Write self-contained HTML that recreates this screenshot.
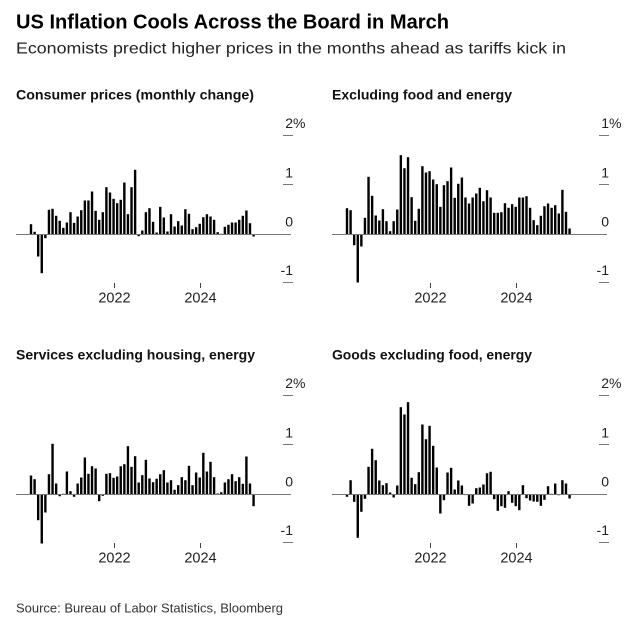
<!DOCTYPE html>
<html>
<head>
<meta charset="utf-8">
<style>
html,body{margin:0;padding:0;background:#fff;}
svg{display:block;}
text{font-family:"Liberation Sans",Arial,sans-serif;}
</style>
</head>
<body>
<svg width="632" height="629" viewBox="0 0 632 629" xmlns="http://www.w3.org/2000/svg">
<rect width="632" height="629" fill="#fff"/>

<!-- Titles -->
<text x="16" y="28.3" font-size="20" font-weight="bold" fill="#000" textLength="433" lengthAdjust="spacingAndGlyphs">US Inflation Cools Across the Board in March</text>
<text x="16" y="53.3" font-size="16" fill="#222" textLength="550" lengthAdjust="spacingAndGlyphs">Economists predict higher prices in the months ahead as tariffs kick in</text>

<text x="16" y="99.3" font-size="14" font-weight="bold" fill="#111" textLength="238" lengthAdjust="spacingAndGlyphs">Consumer prices (monthly change)</text>
<text x="332" y="99.3" font-size="14" font-weight="bold" fill="#111" textLength="180" lengthAdjust="spacingAndGlyphs">Excluding food and energy</text>
<text x="16" y="359.5" font-size="14" font-weight="bold" fill="#111" textLength="239" lengthAdjust="spacingAndGlyphs">Services excluding housing, energy</text>
<text x="332" y="359.5" font-size="14" font-weight="bold" fill="#111" textLength="200" lengthAdjust="spacingAndGlyphs">Goods excluding food, energy</text>

<text x="16" y="612.7" font-size="13" fill="#333" textLength="267" lengthAdjust="spacingAndGlyphs">Source: Bureau of Labor Statistics, Bloomberg</text>

<!-- ===== Top-left: CPI ===== -->
<g transform="translate(29.8,234.5) scale(1,-1)" fill="#000">
<rect x="0" width="2.4" height="10.3"/>
<rect x="3.59" width="2.4" height="2.7"/>
<rect x="7.18" y="-22" width="2.4" height="22"/>
<rect x="10.77" y="-38.7" width="2.4" height="38.7"/>
<rect x="14.36" y="-3.7" width="2.4" height="3.7"/>
<rect x="17.95" width="2.4" height="24.7"/>
<rect x="21.54" width="2.4" height="25.7"/>
<rect x="25.13" width="2.4" height="18.7"/>
<rect x="28.72" width="2.4" height="13.7"/>
<rect x="32.31" width="2.4" height="6.7"/>
<rect x="35.9" width="2.4" height="12"/>
<rect x="39.49" width="2.4" height="22.3"/>
<rect x="43.08" width="2.4" height="11.7"/>
<rect x="46.67" width="2.4" height="18"/>
<rect x="50.26" width="2.4" height="24.3"/>
<rect x="53.85" width="2.4" height="34"/>
<rect x="57.44" width="2.4" height="34"/>
<rect x="61.03" width="2.4" height="43"/>
<rect x="64.62" width="2.4" height="23.7"/>
<rect x="68.21" width="2.4" height="14.7"/>
<rect x="71.8" width="2.4" height="22.3"/>
<rect x="75.39" width="2.4" height="47.3"/>
<rect x="78.98" width="2.4" height="42"/>
<rect x="82.57" width="2.4" height="35.7"/>
<rect x="86.16" width="2.4" height="31.3"/>
<rect x="89.75" width="2.4" height="34.7"/>
<rect x="93.34" width="2.4" height="52"/>
<rect x="96.93" width="2.4" height="20.3"/>
<rect x="100.52" width="2.4" height="47.3"/>
<rect x="104.11" width="2.4" height="64.7"/>
<rect x="107.7" y="-1.7" width="2.4" height="1.7"/>
<rect x="111.29" width="2.4" height="4"/>
<rect x="114.88" width="2.4" height="22.3"/>
<rect x="118.47" width="2.4" height="26.3"/>
<rect x="122.06" width="2.4" height="12.7"/>
<rect x="125.65" width="2.4" height="2"/>
<rect x="129.24" width="2.4" height="27.7"/>
<rect x="132.83" width="2.4" height="17"/>
<rect x="136.42" width="2.4" height="3"/>
<rect x="140.01" width="2.4" height="20.3"/>
<rect x="143.6" width="2.4" height="8"/>
<rect x="147.19" width="2.4" height="13.3"/>
<rect x="150.78" width="2.4" height="9"/>
<rect x="154.37" width="2.4" height="25.3"/>
<rect x="157.96" width="2.4" height="20.7"/>
<rect x="161.55" width="2.4" height="5.3"/>
<rect x="165.14" width="2.4" height="7.3"/>
<rect x="168.73" width="2.4" height="10.7"/>
<rect x="172.32" width="2.4" height="17.3"/>
<rect x="175.91" width="2.4" height="20.3"/>
<rect x="179.5" width="2.4" height="18"/>
<rect x="183.09" width="2.4" height="14.7"/>
<rect x="186.68" width="2.4" height="2.3"/>
<rect x="190.27" width="2.4" height="0.7"/>
<rect x="193.86" width="2.4" height="7.7"/>
<rect x="197.45" width="2.4" height="9.7"/>
<rect x="201.04" width="2.4" height="12"/>
<rect x="204.63" width="2.4" height="12"/>
<rect x="208.22" width="2.4" height="14.7"/>
<rect x="211.81" width="2.4" height="18.7"/>
<rect x="215.4" width="2.4" height="24"/>
<rect x="218.99" width="2.4" height="11.3"/>
<rect x="222.58" y="-2" width="2.4" height="2"/>
</g>

<!-- ===== Top-right: Core ===== -->
<g transform="translate(345.8,234.5) scale(1,-1)" fill="#000">
<rect x="0" width="2.4" height="26.3"/>
<rect x="3.59" width="2.4" height="24.3"/>
<rect x="7.18" y="-10.7" width="2.4" height="10.7"/>
<rect x="10.77" y="-48" width="2.4" height="48"/>
<rect x="14.36" y="-12" width="2.4" height="12"/>
<rect x="17.95" width="2.4" height="16.7"/>
<rect x="21.54" width="2.4" height="57.7"/>
<rect x="25.13" width="2.4" height="38.7"/>
<rect x="28.72" width="2.4" height="19"/>
<rect x="32.31" width="2.4" height="14"/>
<rect x="35.9" width="2.4" height="25.3"/>
<rect x="39.49" width="2.4" height="13.3"/>
<rect x="43.08" width="2.4" height="3.3"/>
<rect x="46.67" width="2.4" height="13.3"/>
<rect x="50.26" width="2.4" height="25"/>
<rect x="53.85" width="2.4" height="79.3"/>
<rect x="57.44" width="2.4" height="66.3"/>
<rect x="61.03" width="2.4" height="77.3"/>
<rect x="64.62" width="2.4" height="37.3"/>
<rect x="68.21" width="2.4" height="13.7"/>
<rect x="71.8" width="2.4" height="25.7"/>
<rect x="75.39" width="2.4" height="68.3"/>
<rect x="78.98" width="2.4" height="62"/>
<rect x="82.57" width="2.4" height="63.3"/>
<rect x="86.16" width="2.4" height="55"/>
<rect x="89.75" width="2.4" height="50.3"/>
<rect x="93.34" width="2.4" height="27.7"/>
<rect x="96.93" width="2.4" height="49.3"/>
<rect x="100.52" width="2.4" height="53.3"/>
<rect x="104.11" width="2.4" height="67"/>
<rect x="107.7" width="2.4" height="36.7"/>
<rect x="111.29" width="2.4" height="50.7"/>
<rect x="114.88" width="2.4" height="57"/>
<rect x="118.47" width="2.4" height="37"/>
<rect x="122.06" width="2.4" height="31"/>
<rect x="125.65" width="2.4" height="37"/>
<rect x="129.24" width="2.4" height="41"/>
<rect x="132.83" width="2.4" height="46.7"/>
<rect x="136.42" width="2.4" height="33.3"/>
<rect x="140.01" width="2.4" height="44.3"/>
<rect x="143.6" width="2.4" height="37"/>
<rect x="147.19" width="2.4" height="21.7"/>
<rect x="150.78" width="2.4" height="21.7"/>
<rect x="154.37" width="2.4" height="22.3"/>
<rect x="157.96" width="2.4" height="31.3"/>
<rect x="161.55" width="2.4" height="26.7"/>
<rect x="165.14" width="2.4" height="30.3"/>
<rect x="168.73" width="2.4" height="27.7"/>
<rect x="172.32" width="2.4" height="37"/>
<rect x="175.91" width="2.4" height="37"/>
<rect x="179.5" width="2.4" height="38.3"/>
<rect x="183.09" width="2.4" height="26.7"/>
<rect x="186.68" width="2.4" height="14.3"/>
<rect x="190.27" width="2.4" height="9.3"/>
<rect x="193.86" width="2.4" height="18.7"/>
<rect x="197.45" width="2.4" height="28.3"/>
<rect x="201.04" width="2.4" height="31"/>
<rect x="204.63" width="2.4" height="26.7"/>
<rect x="208.22" width="2.4" height="29.3"/>
<rect x="211.81" width="2.4" height="21"/>
<rect x="215.4" width="2.4" height="44.7"/>
<rect x="218.99" width="2.4" height="22.7"/>
<rect x="222.58" width="2.4" height="6"/>
</g>

<!-- ===== Bottom-left: Services ex housing ===== -->
<g transform="translate(29.8,494.5) scale(1,-1)" fill="#000">
<rect x="0" width="2.4" height="19"/>
<rect x="3.59" width="2.4" height="15.3"/>
<rect x="7.18" y="-25.7" width="2.4" height="25.7"/>
<rect x="10.77" y="-49" width="2.4" height="49"/>
<rect x="14.36" y="-18" width="2.4" height="18"/>
<rect x="17.95" width="2.4" height="20.3"/>
<rect x="21.54" width="2.4" height="50.7"/>
<rect x="25.13" width="2.4" height="11"/>
<rect x="28.72" y="-1.7" width="2.4" height="1.7"/>
<rect x="32.31" width="2.4" height="0.7"/>
<rect x="35.9" width="2.4" height="23"/>
<rect x="39.49" width="2.4" height="3.3"/>
<rect x="43.08" y="-2.3" width="2.4" height="2.3"/>
<rect x="46.67" width="2.4" height="11"/>
<rect x="50.26" width="2.4" height="17"/>
<rect x="53.85" width="2.4" height="37"/>
<rect x="57.44" width="2.4" height="20.7"/>
<rect x="61.03" width="2.4" height="28.3"/>
<rect x="64.62" width="2.4" height="26"/>
<rect x="68.21" y="-6.7" width="2.4" height="6.7"/>
<rect x="71.8" y="-1.3" width="2.4" height="1.3"/>
<rect x="75.39" width="2.4" height="20.7"/>
<rect x="78.98" width="2.4" height="21.3"/>
<rect x="82.57" width="2.4" height="16.7"/>
<rect x="86.16" width="2.4" height="18"/>
<rect x="89.75" width="2.4" height="28.3"/>
<rect x="93.34" width="2.4" height="30.3"/>
<rect x="96.93" width="2.4" height="48.3"/>
<rect x="100.52" width="2.4" height="27.7"/>
<rect x="104.11" width="2.4" height="38.3"/>
<rect x="107.7" width="2.4" height="12"/>
<rect x="111.29" width="2.4" height="19.3"/>
<rect x="114.88" width="2.4" height="34.7"/>
<rect x="118.47" width="2.4" height="16"/>
<rect x="122.06" width="2.4" height="12.3"/>
<rect x="125.65" width="2.4" height="15.7"/>
<rect x="129.24" width="2.4" height="20.3"/>
<rect x="132.83" width="2.4" height="24.3"/>
<rect x="136.42" width="2.4" height="12"/>
<rect x="140.01" width="2.4" height="14.3"/>
<rect x="143.6" width="2.4" height="4.7"/>
<rect x="147.19" width="2.4" height="9.3"/>
<rect x="150.78" width="2.4" height="17.3"/>
<rect x="154.37" width="2.4" height="14.3"/>
<rect x="157.96" width="2.4" height="28.7"/>
<rect x="161.55" width="2.4" height="9.3"/>
<rect x="165.14" width="2.4" height="22"/>
<rect x="168.73" width="2.4" height="17"/>
<rect x="172.32" width="2.4" height="41.7"/>
<rect x="175.91" width="2.4" height="23"/>
<rect x="179.5" width="2.4" height="32.7"/>
<rect x="183.09" width="2.4" height="17.3"/>
<rect x="186.68" width="2.4" height="1"/>
<rect x="190.27" width="2.4" height="2.3"/>
<rect x="193.86" width="2.4" height="12"/>
<rect x="197.45" width="2.4" height="15.3"/>
<rect x="201.04" width="2.4" height="20.3"/>
<rect x="204.63" width="2.4" height="13.3"/>
<rect x="208.22" width="2.4" height="17.3"/>
<rect x="211.81" width="2.4" height="10.7"/>
<rect x="215.4" width="2.4" height="38"/>
<rect x="218.99" width="2.4" height="11"/>
<rect x="222.58" y="-11.7" width="2.4" height="11.7"/>
</g>

<!-- ===== Bottom-right: Goods ex food, energy ===== -->
<g transform="translate(345.8,494.5) scale(1,-1)" fill="#000">
<rect x="0" y="-2.3" width="2.4" height="2.3"/>
<rect x="3.59" width="2.4" height="14.3"/>
<rect x="7.18" y="-7.3" width="2.4" height="7.3"/>
<rect x="10.77" y="-43.3" width="2.4" height="43.3"/>
<rect x="14.36" y="-17.3" width="2.4" height="17.3"/>
<rect x="17.95" y="-4.3" width="2.4" height="4.3"/>
<rect x="21.54" width="2.4" height="27.7"/>
<rect x="25.13" width="2.4" height="45.7"/>
<rect x="28.72" width="2.4" height="34.3"/>
<rect x="32.31" width="2.4" height="14"/>
<rect x="35.9" width="2.4" height="9.3"/>
<rect x="39.49" width="2.4" height="11.3"/>
<rect x="43.08" width="2.4" height="2"/>
<rect x="46.67" y="-3" width="2.4" height="3"/>
<rect x="50.26" width="2.4" height="9"/>
<rect x="53.85" width="2.4" height="87.3"/>
<rect x="57.44" width="2.4" height="80"/>
<rect x="61.03" width="2.4" height="92.3"/>
<rect x="64.62" width="2.4" height="16.7"/>
<rect x="68.21" width="2.4" height="10.3"/>
<rect x="71.8" width="2.4" height="22.3"/>
<rect x="75.39" width="2.4" height="70"/>
<rect x="78.98" width="2.4" height="55.3"/>
<rect x="82.57" width="2.4" height="68.7"/>
<rect x="86.16" width="2.4" height="48.7"/>
<rect x="89.75" width="2.4" height="27"/>
<rect x="93.34" y="-19" width="2.4" height="19"/>
<rect x="96.93" y="-5.7" width="2.4" height="5.7"/>
<rect x="100.52" width="2.4" height="22"/>
<rect x="104.11" width="2.4" height="26.7"/>
<rect x="107.7" width="2.4" height="5"/>
<rect x="111.29" width="2.4" height="14"/>
<rect x="114.88" width="2.4" height="9"/>
<rect x="118.47" y="-0.6" width="2.4" height="0.6"/>
<rect x="122.06" y="-11.3" width="2.4" height="11.3"/>
<rect x="125.65" y="-9" width="2.4" height="9"/>
<rect x="129.24" width="2.4" height="6.3"/>
<rect x="132.83" width="2.4" height="7"/>
<rect x="136.42" width="2.4" height="10"/>
<rect x="140.01" width="2.4" height="21.3"/>
<rect x="143.6" width="2.4" height="22.7"/>
<rect x="147.19" y="-4.7" width="2.4" height="4.7"/>
<rect x="150.78" y="-16.3" width="2.4" height="16.3"/>
<rect x="154.37" y="-11.7" width="2.4" height="11.7"/>
<rect x="157.96" y="-13.3" width="2.4" height="13.3"/>
<rect x="161.55" width="2.4" height="3.3"/>
<rect x="165.14" y="-8.3" width="2.4" height="8.3"/>
<rect x="168.73" y="-11.7" width="2.4" height="11.7"/>
<rect x="172.32" y="-15.7" width="2.4" height="15.7"/>
<rect x="175.91" width="2.4" height="9.3"/>
<rect x="179.5" y="-3.7" width="2.4" height="3.7"/>
<rect x="183.09" y="-6" width="2.4" height="6"/>
<rect x="186.68" y="-7" width="2.4" height="7"/>
<rect x="190.27" y="-7.3" width="2.4" height="7.3"/>
<rect x="193.86" y="-11.3" width="2.4" height="11.3"/>
<rect x="197.45" y="-5.3" width="2.4" height="5.3"/>
<rect x="201.04" width="2.4" height="8.3"/>
<rect x="204.63" width="2.4" height="0.7"/>
<rect x="208.22" width="2.4" height="11"/>
<rect x="211.81" y="-0.7" width="2.4" height="0.7"/>
<rect x="215.4" width="2.4" height="14.3"/>
<rect x="218.99" width="2.4" height="11"/>
<rect x="222.58" y="-4" width="2.4" height="4"/>
</g>

<!-- ===== Axes: zero lines ===== -->
<g stroke="#777" stroke-width="1">
<line x1="16" y1="234.5" x2="291" y2="234.5"/>
<line x1="332" y1="234.5" x2="607" y2="234.5"/>
<line x1="16" y1="494.5" x2="291" y2="494.5"/>
<line x1="332" y1="494.5" x2="607" y2="494.5"/>
</g>

<!-- y tick dashes -->
<g stroke="#777" stroke-width="1">
<line x1="283" y1="135.5" x2="293" y2="135.5"/>
<line x1="283" y1="184.5" x2="293" y2="184.5"/>
<line x1="283" y1="282.5" x2="293" y2="282.5"/>
<line x1="599" y1="135.5" x2="609" y2="135.5"/>
<line x1="599" y1="184.5" x2="609" y2="184.5"/>
<line x1="599" y1="282.5" x2="609" y2="282.5"/>
<line x1="283" y1="395.5" x2="293" y2="395.5"/>
<line x1="283" y1="444.5" x2="293" y2="444.5"/>
<line x1="283" y1="542.5" x2="293" y2="542.5"/>
<line x1="599" y1="395.5" x2="609" y2="395.5"/>
<line x1="599" y1="444.5" x2="609" y2="444.5"/>
<line x1="599" y1="542.5" x2="609" y2="542.5"/>
</g>

<!-- x year ticks -->
<g stroke="#444" stroke-width="1">
<line x1="114.5" y1="283" x2="114.5" y2="288"/>
<line x1="200.5" y1="283" x2="200.5" y2="288"/>
<line x1="430.5" y1="283" x2="430.5" y2="288"/>
<line x1="516.5" y1="283" x2="516.5" y2="288"/>
<line x1="114.5" y1="543" x2="114.5" y2="548"/>
<line x1="200.5" y1="543" x2="200.5" y2="548"/>
<line x1="430.5" y1="543" x2="430.5" y2="548"/>
<line x1="516.5" y1="543" x2="516.5" y2="548"/>
</g>

<!-- y labels -->
<g font-size="14" fill="#222">
<text x="293" y="128" text-anchor="end">2</text><text x="293" y="128">%</text>
<text x="293" y="177.5" text-anchor="end">1</text>
<text x="293" y="226.5" text-anchor="end">0</text>
<text x="293" y="275" text-anchor="end">-1</text>

<text x="609" y="128" text-anchor="end">1</text><text x="609" y="128">%</text>
<text x="609" y="177.5" text-anchor="end">1</text>
<text x="609" y="226.5" text-anchor="end">0</text>
<text x="609" y="275" text-anchor="end">-1</text>

<text x="293" y="388" text-anchor="end">2</text><text x="293" y="388">%</text>
<text x="293" y="437.5" text-anchor="end">1</text>
<text x="293" y="486.5" text-anchor="end">0</text>
<text x="293" y="535" text-anchor="end">-1</text>

<text x="609" y="388" text-anchor="end">2</text><text x="609" y="388">%</text>
<text x="609" y="437.5" text-anchor="end">1</text>
<text x="609" y="486.5" text-anchor="end">0</text>
<text x="609" y="535" text-anchor="end">-1</text>
</g>

<!-- x labels -->
<g font-size="14.5" fill="#222" text-anchor="middle">
<text x="114.5" y="302.7">2022</text>
<text x="200.5" y="302.7">2024</text>
<text x="430.5" y="302.7">2022</text>
<text x="516.5" y="302.7">2024</text>
<text x="114.5" y="562.7">2022</text>
<text x="200.5" y="562.7">2024</text>
<text x="430.5" y="562.7">2022</text>
<text x="516.5" y="562.7">2024</text>
</g>
</svg>
</body>
</html>
